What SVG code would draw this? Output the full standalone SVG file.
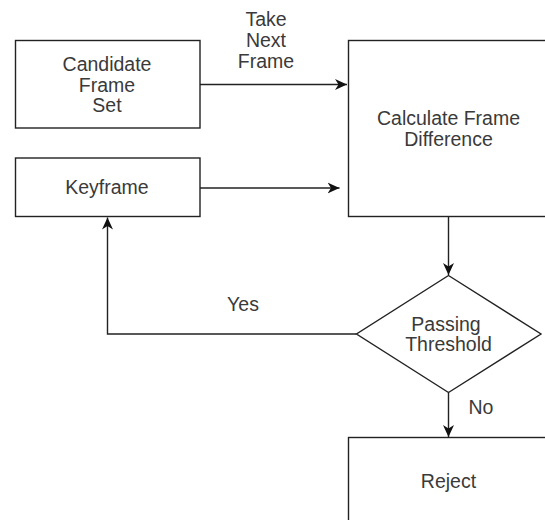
<svg xmlns="http://www.w3.org/2000/svg" width="545" height="520" viewBox="0 0 545 520">
<style>
.node{fill:#ffffff;stroke:#222222;stroke-width:1.4}
.edge{fill:none;stroke:#222222;stroke-width:1.4}
text{font-family:"Liberation Sans",Arial,sans-serif;font-size:19.5px;fill:#3a3a3a;text-anchor:middle}
</style>
<defs>
<marker id="arr" markerUnits="userSpaceOnUse" markerWidth="14" markerHeight="12" viewBox="0 0 14 12" refX="12" refY="6" orient="auto">
<path d="M0,0.5 L12,6 L0,11.5 L3.5,6 Z" fill="#111111"/>
</marker>
</defs>
<rect width="545" height="520" fill="#ffffff"/>
<g id="connectors">
<path class="edge" d="M200,84.5 H347" marker-end="url(#arr)"/>
<path class="edge" d="M200,188 H339.5" marker-end="url(#arr)"/>
<path class="edge" d="M448.5,216.5 V275" marker-end="url(#arr)"/>
<path class="edge" d="M356.5,334 H107.5 V217.5" marker-end="url(#arr)"/>
<path class="edge" d="M448.5,392.5 V437" marker-end="url(#arr)"/>
<text x="266" y="26">Take</text>
<text x="266" y="47">Next</text>
<text x="266" y="68">Frame</text>
<text x="243" y="311">Yes</text>
<text x="481" y="414">No</text>
</g>
<g id="candidate">
<rect class="node" x="15.5" y="40.5" width="184.5" height="87.5"/>
<text x="107" y="70.7">Candidate</text>
<text x="107" y="91.7">Frame</text>
<text x="107" y="111.7">Set</text>
</g>
<g id="keyframe">
<rect class="node" x="15.5" y="158" width="184.5" height="58.5"/>
<text x="107" y="194">Keyframe</text>
</g>
<g id="calc">
<rect class="node" x="348.5" y="40.5" width="200" height="176"/>
<text x="448.5" y="124.7">Calculate Frame</text>
<text x="448.5" y="145.7">Difference</text>
</g>
<g id="threshold">
<polygon class="node" points="448.5,275.5 541,334 448.5,392.5 356.5,334"/>
<text x="446" y="330.7">Passing</text>
<text x="448.5" y="351">Threshold</text>
</g>
<g id="reject">
<rect class="node" x="348.5" y="437.5" width="200" height="100"/>
<text x="448.5" y="487.5">Reject</text>
</g>
</svg>
